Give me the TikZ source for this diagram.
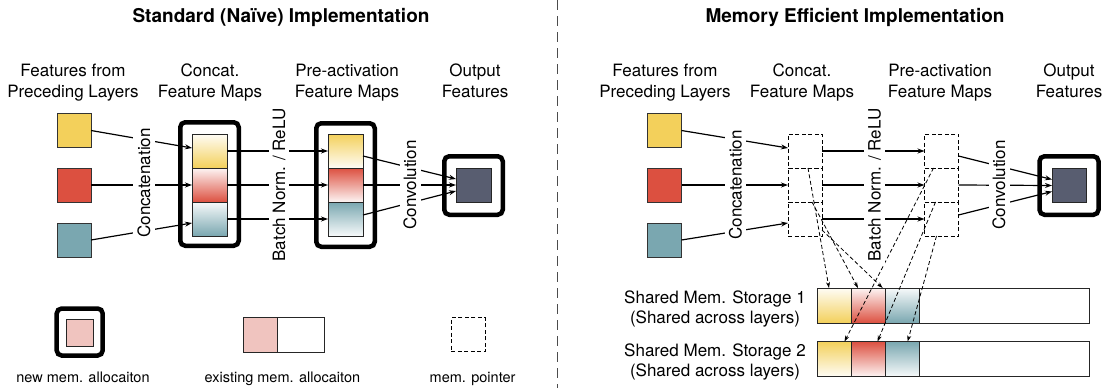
\documentclass[tikz,border=0pt]{standalone}
\usepackage{fontspec}
\setmainfont{TeX Gyre Heros}
\usetikzlibrary{arrows.meta,calc}
\definecolor{yel}{RGB}{243,208,91}
\definecolor{redc}{RGB}{220,80,64}
\definecolor{tealc}{RGB}{122,167,176}
\definecolor{outc}{RGB}{88,93,112}
\definecolor{pinkc}{RGB}{240,196,191}
\begin{document}
\begin{tikzpicture}[x=1pt,y=-1pt,
  lbl/.style={font=\fontsize{17}{21}\selectfont, align=center, inner sep=0pt},
  stlbl/.style={font=\fontsize{17}{19.5}\selectfont, align=center, inner sep=0pt},
  leglbl/.style={font=\fontsize{14.5}{17}\selectfont, inner sep=0pt},
  ttl/.style={font=\fontsize{19}{23}\selectfont\bfseries, inner sep=0pt},
  insq/.style={draw=black!80, line width=0.8pt, minimum width=34pt, minimum height=34pt, inner sep=0pt, outer sep=0pt},
  bigbox/.style={draw=black, line width=4.5pt, rounded corners=5pt, inner sep=0pt, outer sep=0pt},
  cell/.style={draw=black!85, line width=0.8pt, minimum width=35pt, minimum height=34pt, inner sep=0pt, outer sep=0pt},
  upgrad/.style={cell, top color=#1!6!white, bottom color=#1},
  downgrad/.style={cell, top color=#1, bottom color=#1!6!white},
  ptr/.style={draw=black, dash pattern=on 4pt off 2.5pt, line width=0.8pt, minimum width=34pt, minimum height=34pt, inner sep=0pt, outer sep=0pt},
  conn/.style={line width=1.2pt, -{Stealth[length=7pt,width=5pt]}},
  pconn/.style={line width=0.8pt, dash pattern=on 4pt off 2.5pt, -{Stealth[length=6pt,width=4pt]}},
  vlab/.style={font=\fontsize{17}{21}\selectfont, rotate=90, fill=white, inner sep=4pt}
]
\useasboundingbox (0,0) rectangle (1104,388);

% divider
\draw[black!70, line width=1.5pt, dash pattern=on 10pt off 6pt] (557.7,0) -- (557.7,388);

% titles
\node[ttl, anchor=base] (L-title) at (281,22.5) {Standard (Naïve) Implementation};
\node[ttl, anchor=base] (R-title) at (855,22.5) {Memory Efficient Implementation};

% headers left (base = last line)
\node[lbl, anchor=base] (L-h1) at (73,97.5) {Features from\\Preceding Layers};
\node[lbl, anchor=base] (L-h2) at (210,97.5) {Concat.\\Feature Maps};
\node[lbl, anchor=base] (L-h3) at (347,97.5) {Pre-activation\\Feature Maps};
\node[lbl, anchor=base] (L-h4) at (475,97.5) {Output\\Features};
% headers right
\node[lbl, anchor=base] (R-h1) at (665,97.5) {Features from\\Preceding Layers};
\node[lbl, anchor=base] (R-h2) at (802,97.5) {Concat.\\Feature Maps};
\node[lbl, anchor=base] (R-h3) at (940,97.5) {Pre-activation\\Feature Maps};
\node[lbl, anchor=base] (R-h4) at (1069,97.5) {Output\\Features};

% ---------------- left panel ----------------
\node[insq, fill=yel] (L-in1) at (74,130.5) {};
\node[insq, fill=redc] (L-in2) at (74,185) {};
\node[insq, fill=tealc] (L-in3) at (74,240) {};

\node[bigbox, minimum width=58.5pt, minimum height=123.5pt] (L-cbox) at (209.5,184) {};
\node[upgrad=yel] (L-c1) at (209.5,151) {};
\node[upgrad=redc] (L-c2) at (209.5,185) {};
\node[upgrad=tealc] (L-c3) at (209.5,219) {};

\node[bigbox, minimum width=58.5pt, minimum height=123.5pt] (L-pbox) at (345.5,185) {};
\node[downgrad=yel] (L-p1) at (345.5,151) {};
\node[downgrad=redc] (L-p2) at (345.5,185) {};
\node[downgrad=tealc] (L-p3) at (345.5,219) {};

\node[bigbox, minimum width=58.5pt, minimum height=58.5pt] (L-obox) at (473.5,185.5) {};
\node[cell, fill=outc] (L-out) at (473.5,185) {};

\draw[conn] (L-in1.east) -- ($(L-c1.west)+(0,-3)$);
\draw[conn] (L-in2.east) -- (L-c2.west);
\draw[conn] (L-in3.east) -- ($(L-c3.west)+(0,4)$);
\draw[conn] (L-c1.east) -- (L-p1.west);
\draw[conn] (L-c2.east) -- (L-p2.west);
\draw[conn] (L-c3.east) -- (L-p3.west);
\draw[conn] ($(L-p1.east)+(0,5)$) -- ($(L-out.west)+(0,-6)$);
\draw[conn] (L-p2.east) -- (L-out.west);
\draw[conn] ($(L-p3.east)+(0,-4)$) -- ($(L-out.west)+(0,6)$);

\node[vlab] (L-concat) at (144,183) {Concatenation};
\node[vlab] (L-bn) at (279,185) {Batch Norm. / ReLU};
\node[vlab] (L-conv) at (410,185) {Convolution};

% legend
\node[bigbox, minimum width=46pt, minimum height=47pt] (G-newbox) at (79.7,332) {};
\node[cell, fill=pinkc, minimum width=27pt, minimum height=27pt] (G-newin) at (80,332.7) {};
\node[leglbl, anchor=base] (G-newtxt) at (83,382) {new mem. allocaiton};
\node[cell, fill=pinkc, minimum width=33.7pt, minimum height=35.8pt] (G-exa) at (260.35,334.8) {};
\node[cell, fill=white, minimum width=47.2pt, minimum height=35.8pt] (G-exb) at (300.8,334.8) {};
\node[leglbl, anchor=base] (G-extxt) at (282.4,382) {existing mem. allocaiton};
\node[ptr] (G-ptr) at (468.3,334.8) {};
\node[leglbl, anchor=base] (G-ptrtxt) at (472.6,382) {mem. pointer};

% ---------------- right panel ----------------
\node[insq, fill=yel] (R-in1) at (664.5,130.5) {};
\node[insq, fill=redc] (R-in2) at (664.5,185) {};
\node[insq, fill=tealc] (R-in3) at (664.5,240) {};

\node[ptr] (R-c1) at (805,151) {};
\node[ptr] (R-c2) at (805,185) {};
\node[ptr] (R-c3) at (805,219) {};
\node[ptr] (R-p1) at (941.5,151) {};
\node[ptr] (R-p2) at (941.5,185) {};
\node[ptr] (R-p3) at (941.5,219) {};

\node[bigbox, minimum width=59pt, minimum height=58.5pt] (R-obox) at (1069,185.5) {};
\node[cell, fill=outc, minimum width=34pt] (R-out) at (1069,185.5) {};

% storage
\node[upgrad=yel, minimum width=34pt, minimum height=35pt] (R-s1a) at (834.5,305.5) {};
\node[upgrad=redc, minimum width=34pt, minimum height=35pt] (R-s1b) at (868.5,305.5) {};
\node[upgrad=tealc, minimum width=34.3pt, minimum height=35pt] (R-s1c) at (902.65,305.5) {};
\node[cell, fill=white, minimum width=170pt, minimum height=35pt] (R-s1d) at (1004.8,305.5) {};
\node[downgrad=yel, minimum width=34pt, minimum height=35pt] (R-s2a) at (834.5,359) {};
\node[downgrad=redc, minimum width=34pt, minimum height=35pt] (R-s2b) at (868.5,359) {};
\node[downgrad=tealc, minimum width=34.3pt, minimum height=35pt] (R-s2c) at (902.65,359) {};
\node[cell, fill=white, minimum width=170pt, minimum height=35pt] (R-s2d) at (1004.8,359) {};

\node[stlbl, anchor=base] (R-st1) at (715,323) {Shared Mem. Storage 1\\(Shared across layers)};
\node[stlbl, anchor=base] (R-st2) at (715,376) {Shared Mem. Storage 2\\(Shared across layers)};

\draw[conn] (R-in1.east) -- ($(R-c1.west)+(0,-3)$);
\draw[conn] (R-in2.east) -- (R-c2.west);
\draw[conn] (R-in3.east) -- ($(R-c3.west)+(0,4)$);
\draw[conn] (R-c1.east) -- (R-p1.west);
\draw[conn] (R-c2.east) -- (R-p2.west);
\draw[conn] (R-c3.east) -- (R-p3.west);
\draw[conn] ($(R-p1.east)+(0,5)$) -- ($(R-out.west)+(0,-6)$);
\draw[conn] (R-p2.east) -- (R-out.west);
\draw[conn] ($(R-p3.east)+(0,-4)$) -- ($(R-out.west)+(0,6)$);

\draw[pconn] ($(R-c1.south west)+(20,0)$) -- ($(R-s1a.north)+(-5.5,0)$);
\draw[pconn] ($(R-c2.south west)+(24,0)$) -- ($(R-s1b.north)+(-10.5,0)$);
\draw[pconn] ($(R-c3.south east)+(0,-6)$) -- ($(R-s1c.north)+(-20,0)$);
\draw[pconn] ($(R-p1.south west)+(9,0)$) -- ($(R-s2a.north)+(10,0)$);
\draw[pconn] ($(R-p2.south west)+(11,0)$) -- ($(R-s2b.north)+(9,0)$);
\draw[pconn] ($(R-p3.south west)+(12,0)$) -- ($(R-s2c.north)+(5,0)$);

\node[vlab] (R-concat) at (735.5,185) {Concatenation};
\node[vlab] (R-bn) at (874.5,185) {Batch Norm. / ReLU};
\node[vlab] (R-conv) at (999,185) {Convolution};
\end{tikzpicture}
\end{document}
